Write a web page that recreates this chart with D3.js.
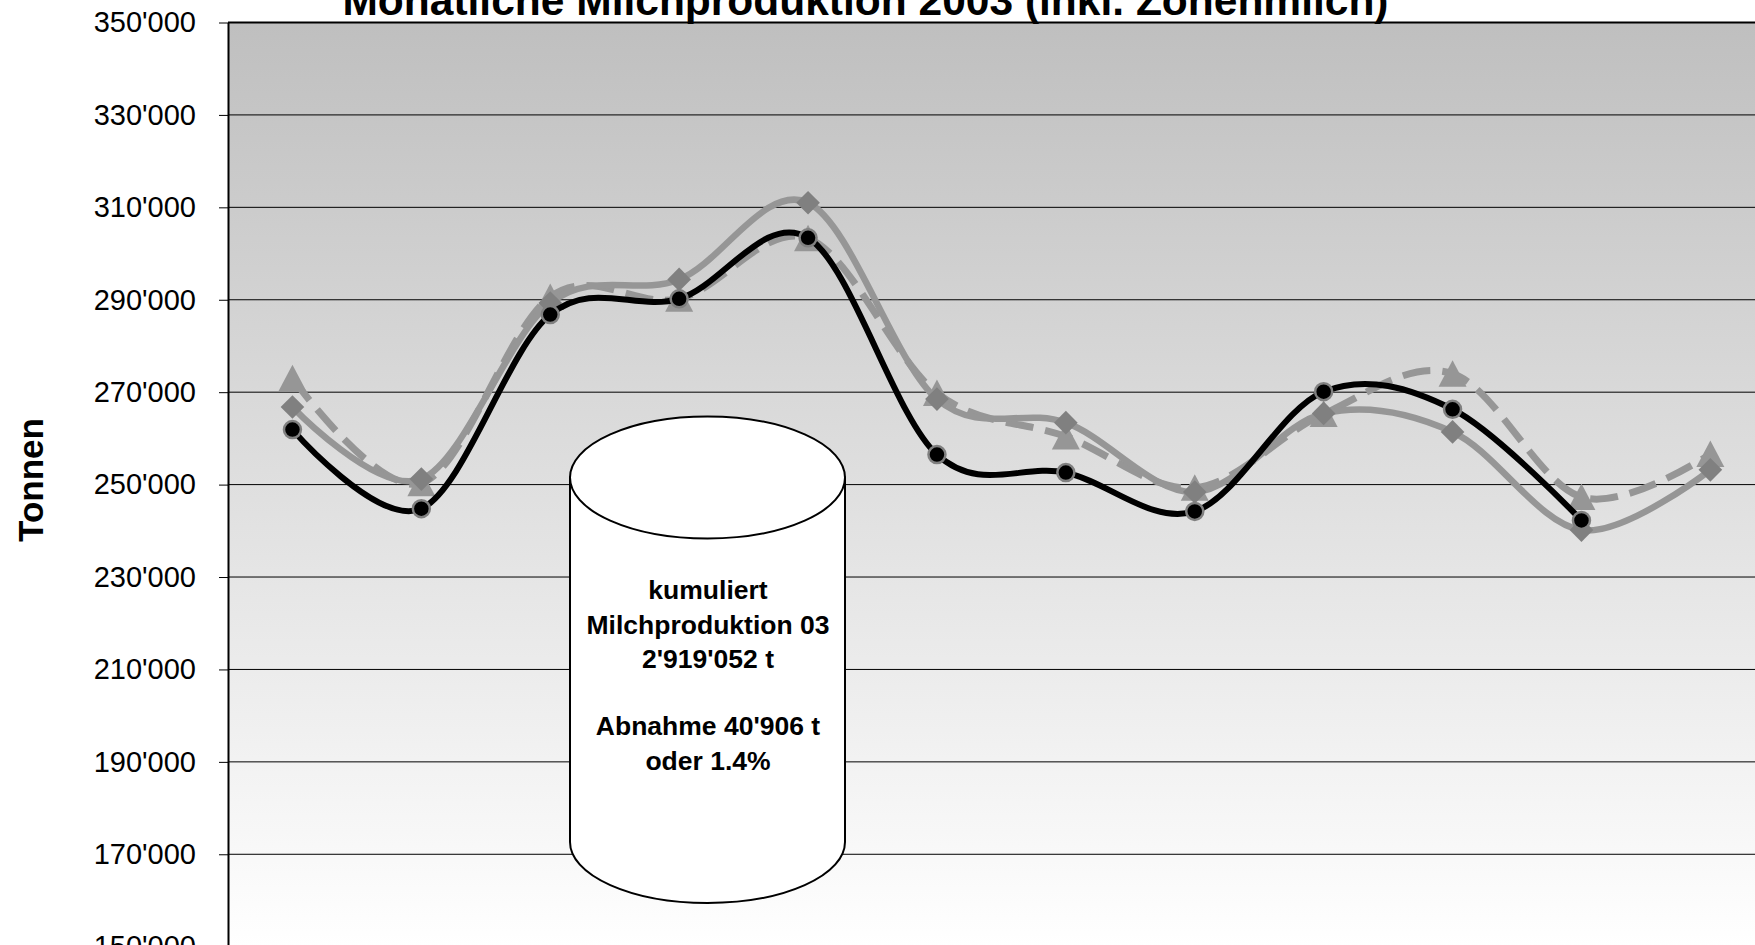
<!doctype html>
<html>
<head>
<meta charset="utf-8">
<style>
  body { margin: 0; background: #fff; overflow: hidden; }
  svg { display: block; font-family: "Liberation Sans", Arial, sans-serif; }
  .axis path { stroke: #000; stroke-width: 2; }
  .axis line { stroke: #000; stroke-width: 1; }
  .axis text { font-size: 29px; fill: #000; }
  .grid line { stroke: #000; stroke-width: 1; }
</style>
</head>
<body>
<svg id="chart" width="1755" height="945"></svg>
<script src="https://d3js.org/d3.v7.min.js"></script>
<script>
// Monatliche Milchproduktion (Tonnen)
var months = ["Jan", "Feb", "Mär", "Apr", "Mai", "Jun", "Jul", "Aug", "Sep", "Okt", "Nov", "Dez"];
var prod2001 = [273000, 250300, 290600, 290200, 303300, 269800, 260400, 249300, 265300, 274000, 247300, 256600];
var prod2002 = [266800, 251200, 289300, 294400, 311000, 268500, 263400, 248400, 265400, 261400, 240158, 253200];
var prod2003 = [261900, 244800, 286800, 290200, 303400, 256500, 252600, 244200, 270100, 266300, 242252, null];
var yTicks = [150000, 170000, 190000, 210000, 230000, 250000, 270000, 290000, 310000, 330000, 350000];

var title = "Monatliche Milchproduktion 2003 (inkl. Zonenmilch)";
var yTitle = "Tonnen";

var svg = d3.select("#chart"),
    plotLeft = 228,
    plotTop = 22.5,
    bandW = 128.9,
    plotBottom = 946.7;

var fmt = d3.formatLocale({decimal: ".", thousands: "'", grouping: [3], currency: ["", ""]}).format(",");

var x = d3.scaleBand()
    .domain(months)
    .range([plotLeft, plotLeft + bandW * months.length]);
var y = d3.scaleLinear()
    .domain([150000, 350000])
    .range([plotBottom, plotTop]);
var cx = function(i) { return x(months[i]) + x.bandwidth() / 2; };

// plot background gradient
var grad = svg.append("defs").append("linearGradient")
    .attr("id", "bg").attr("x1", 0).attr("y1", 0).attr("x2", 0).attr("y2", 1);
grad.append("stop").attr("offset", "0%").attr("stop-color", "#bfbfbf");
grad.append("stop").attr("offset", "100%").attr("stop-color", "#ffffff");

svg.append("rect")
    .attr("x", plotLeft).attr("y", plotTop)
    .attr("width", x.range()[1] - plotLeft)
    .attr("height", plotBottom - plotTop)
    .attr("fill", "url(#bg)");

// gridlines
svg.append("g").attr("class", "grid")
  .selectAll("line").data(yTicks).enter().append("line")
    .attr("x1", plotLeft).attr("x2", x.range()[1])
    .attr("y1", function(d) { return y(d); })
    .attr("y2", function(d) { return y(d); });

// top border
svg.append("line")
    .attr("x1", plotLeft).attr("x2", x.range()[1])
    .attr("y1", plotTop).attr("y2", plotTop)
    .attr("stroke", "#000").attr("stroke-width", 2);

var yAxis = d3.axisLeft(y)
    .tickValues(yTicks)
    .tickSize(9)
    .tickSizeOuter(0)
    .tickPadding(23)
    .tickFormat(fmt);
svg.append("g")
    .attr("class", "axis")
    .attr("transform", "translate(" + plotLeft + ",0)")
    .call(yAxis);

// titles
svg.append("text")
    .attr("x", 865.5).attr("y", 14.5)
    .attr("text-anchor", "middle")
    .attr("font-size", 42.5).attr("font-weight", "bold")
    .text(title);
svg.append("text")
    .attr("transform", "translate(43,480) rotate(-90)")
    .attr("text-anchor", "middle")
    .attr("font-size", 35).attr("font-weight", "bold")
    .text(yTitle);

// series
var line = d3.line()
    .defined(function(d) { return d != null; })
    .x(function(d, i) { return cx(i); })
    .y(function(d) { return y(d); })
    .curve(d3.curveCardinal.tension(0));

function pts(arr) {
  return arr.map(function(v, i) { return {v: v, i: i}; }).filter(function(d) { return d.v != null; });
}

// 2001: dashed grey with triangles
svg.append("path")
    .attr("d", line(prod2001))
    .attr("fill", "none").attr("stroke", "#969696")
    .attr("stroke-width", 7).attr("stroke-dasharray", "28,12");
svg.append("g").selectAll("path").data(pts(prod2001)).enter().append("path")
    .attr("transform", function(d) { return "translate(" + cx(d.i) + "," + y(d.v) + ")"; })
    .attr("d", "M0,-13.5L14,13L-14,13Z")
    .attr("fill", "#969696");

// 2002: solid grey with diamonds
svg.append("path")
    .attr("d", line(prod2002))
    .attr("fill", "none").attr("stroke", "#969696")
    .attr("stroke-width", 6.5);
svg.append("g").selectAll("path").data(pts(prod2002)).enter().append("path")
    .attr("transform", function(d) { return "translate(" + cx(d.i) + "," + y(d.v) + ") rotate(45)"; })
    .attr("d", d3.symbol(d3.symbolSquare, 280))
    .attr("fill", "#808080");

// 2003: black with circles
svg.append("path")
    .attr("d", line(prod2003))
    .attr("fill", "none").attr("stroke", "#000")
    .attr("stroke-width", 6);
svg.append("g").selectAll("circle").data(pts(prod2003)).enter().append("circle")
    .attr("cx", function(d) { return cx(d.i); })
    .attr("cy", function(d) { return y(d.v); })
    .attr("r", 8.5)
    .attr("fill", "#000").attr("stroke", "#808080").attr("stroke-width", 2.5);

// cylinder annotation
var cyl = {cx: 707.5, rx: 137.5, ry: 61, top: 477.5, bottom: 842};
svg.append("path")
    .attr("d", "M" + (cyl.cx - cyl.rx) + "," + cyl.top +
               "L" + (cyl.cx - cyl.rx) + "," + cyl.bottom +
               "A" + cyl.rx + "," + cyl.ry + " 0 0 0 " + (cyl.cx + cyl.rx) + "," + cyl.bottom +
               "L" + (cyl.cx + cyl.rx) + "," + cyl.top + "Z")
    .attr("fill", "#fff").attr("stroke", "#000").attr("stroke-width", 2);
svg.append("ellipse")
    .attr("cx", cyl.cx).attr("cy", cyl.top)
    .attr("rx", cyl.rx).attr("ry", cyl.ry)
    .attr("fill", "#fff").attr("stroke", "#000").attr("stroke-width", 2);

var n = 11;
var sum03 = d3.sum(prod2003.slice(0, n));
var sum02 = d3.sum(prod2002.slice(0, n));
var diff = sum02 - sum03;
var noteLines = [
  {t: "kumuliert", y: 599},
  {t: "Milchproduktion 03", y: 633.5},
  {t: fmt(sum03) + " t", y: 667.5},
  {t: "Abnahme " + fmt(diff) + " t", y: 735},
  {t: "oder " + d3.format(".1f")(diff / sum02 * 100) + "%", y: 769.5}
];
svg.append("g").selectAll("text").data(noteLines).enter().append("text")
    .attr("x", 708).attr("y", function(d) { return d.y; })
    .attr("text-anchor", "middle")
    .attr("font-size", 26.5).attr("font-weight", "bold")
    .text(function(d) { return d.t; });
</script>
</body>
</html>
